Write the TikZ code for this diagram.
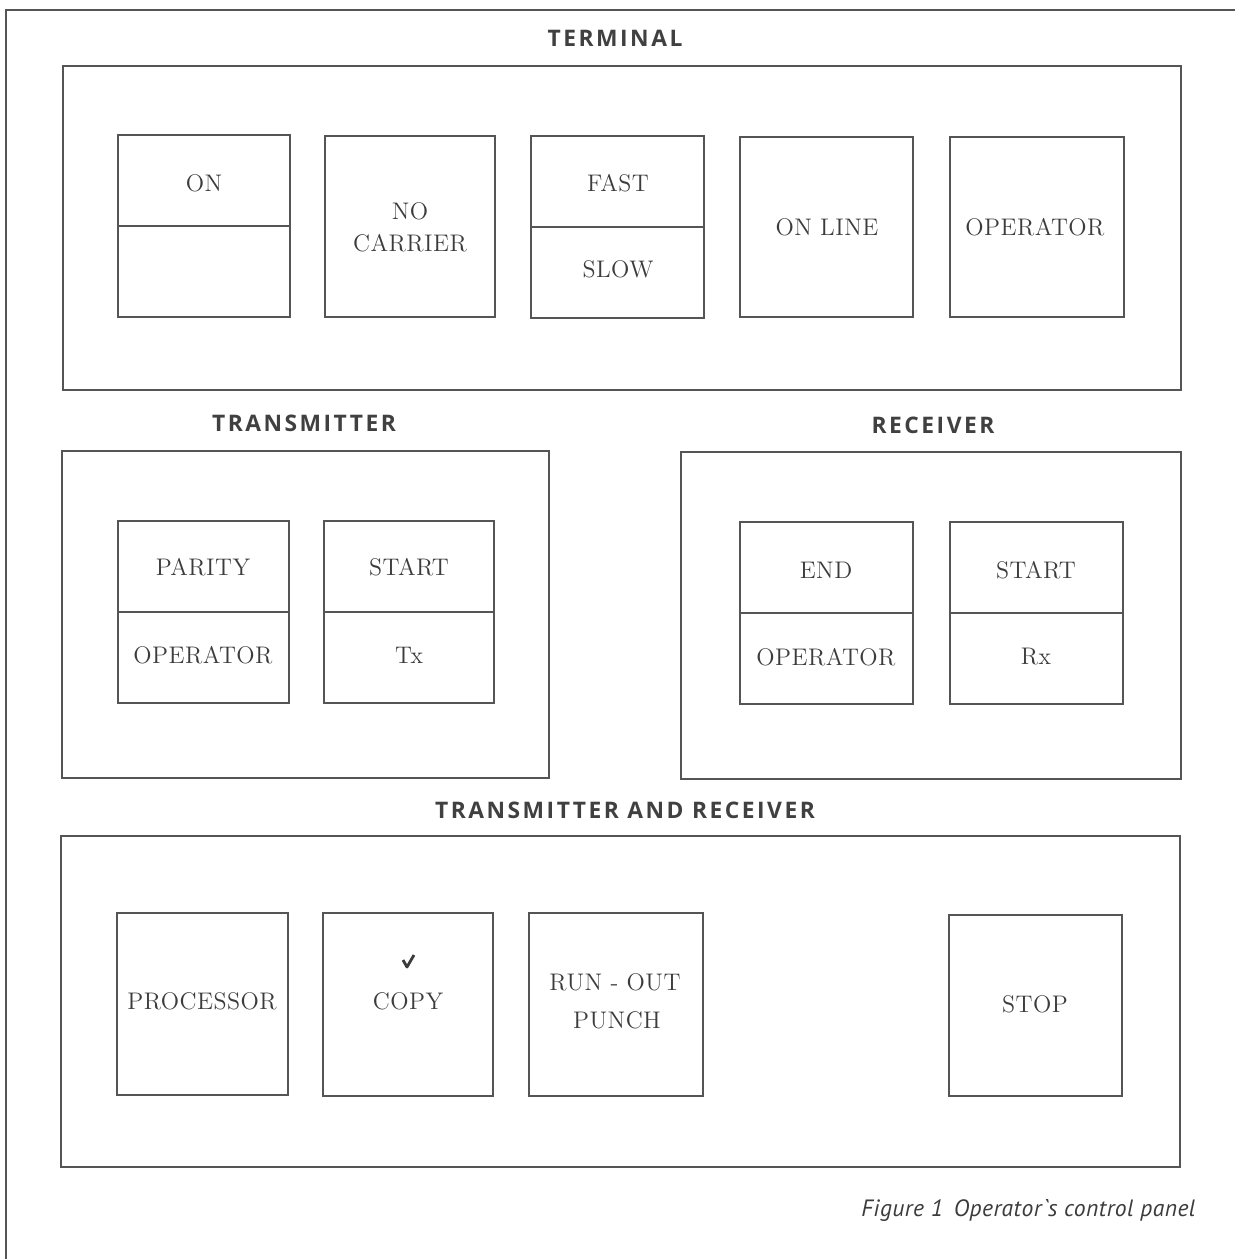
\documentclass[tikz,border=0pt]{standalone}
\usepackage{fontspec}
\usetikzlibrary{fit}
\newfontfamily\headfont[LetterSpace=11]{Open Sans}
\newfontfamily\labfont[LetterSpace=2]{Latin Modern Roman}
\newfontfamily\capfont[LetterSpace=2]{PT Sans}
\definecolor{ink}{HTML}{555555}
\definecolor{txt}{HTML}{3C3C3C}
\definecolor{headc}{HTML}{404040}
\begin{document}
\begin{tikzpicture}[x=0.5pt,y=-0.5pt,
  frame/.style={draw=ink,line width=1.3pt},
  section/.style={draw=ink,line width=1.15pt,inner sep=0pt},
  key/.style={draw=ink,line width=0.8pt,inner sep=0pt},
  divider/.style={draw=ink,line width=0.8pt},
  lab/.style={text=txt,font=\labfont\fontsize{12}{14}\selectfont,inner sep=0pt,align=center},
  head/.style={text=headc,font=\headfont\bfseries\fontsize{11.4}{13}\selectfont,inner sep=0pt},
  captext/.style={text=txt,font=\capfont\itshape\fontsize{11.8}{14}\selectfont,inner sep=0pt,anchor=base west}]
\useasboundingbox[fill=white] (0,0) rectangle (1235,1259);
% outer frame (top and left edges only)
\coordinate (ftr) at (1235,10);
\coordinate (ftl) at (6,10);
\coordinate (fbl) at (6,1259);
\draw[frame] (ftr) -- (ftl) -- (fbl);

% ---------------- TERMINAL ----------------
\node[head] (hterm) at (615,38) {TERMINAL};
\node[section,fit={(63,66) (1181,390)}] (term) {};
\node[key,fit={(118,135) (290,317)}] (kon) {};
\draw[divider] (kon.west) -- (kon.east);
\node[lab] (lon) at (204,183) {ON};
\node[key,fit={(325,136) (495,317)}] (knc) {};
\node[lab] (lno) at (410,211) {NO};
\node[lab] (lcar) at (410,243) {CARRIER};
\node[key,fit={(531,136) (704,318)}] (kfs) {};
\draw[divider] (kfs.west) -- (kfs.east);
\node[lab] (lfast) at (618,183) {FAST};
\node[lab] (lslow) at (618,269) {SLOW};
\node[key,fit={(740,137) (913,317)}] (kol) {};
\node[lab] (lol) at (827,227) {ON LINE};
\node[key,fit={(950,137) (1124,317)}] (kop) {};
\node[lab] (lop) at (1035,227) {OPERATOR};

% ---------------- TRANSMITTER ----------------
\node[head] (htx) at (304,423) {TRANSMITTER};
\node[section,fit={(62,451) (549,778)}] (tx) {};
\node[key,fit={(118,521) (289,703)}] (kpar) {};
\draw[divider] (kpar.west) -- (kpar.east);
\node[lab] (lpar) at (203,567) {PARITY};
\node[lab] (ltop) at (203,655) {OPERATOR};
\node[key,fit={(324,521) (494,703)}] (ktst) {};
\draw[divider] (ktst.west) -- (ktst.east);
\node[lab] (ltst) at (409,567) {START};
\node[lab] (ltx) at (409,655) {Tx};

% ---------------- RECEIVER ----------------
\node[head] (hrx) at (933,425) {RECEIVER};
\node[section,fit={(681,452) (1181,779)}] (rx) {};
\node[key,fit={(740,522) (913,704)}] (kend) {};
\draw[divider] (kend.west) -- (kend.east);
\node[lab] (lend) at (826,570) {END};
\node[lab] (lrop) at (826,657) {OPERATOR};
\node[key,fit={(950,522) (1123,704)}] (krst) {};
\draw[divider] (krst.west) -- (krst.east);
\node[lab] (lrst) at (1036,570) {START};
\node[lab] (lrx) at (1036,657) {Rx};

% ---------------- TRANSMITTER AND RECEIVER ----------------
\node[head] (htr) at (625,810) {TRANSMITTER AND RECEIVER};
\node[section,fit={(61,836) (1180,1167)}] (tr) {};
\node[key,fit={(117,913) (288,1095)}] (kproc) {};
\node[lab] (lproc) at (202,1001) {PROCESSOR};
\node[key,fit={(323,913) (493,1096)}] (kcopy) {};
\node[lab] (lcopy) at (408,1001) {COPY};
\coordinate (tk1) at (403,960);
\coordinate (tk2) at (407,967);
\coordinate (tk3) at (414,955);
\draw[draw=txt,line width=1.4pt,line join=round] (tk1) -- (tk2) -- (tk3);
\node[key,fit={(529,913) (703,1096)}] (krun) {};
\node[lab] (lrun) at (615,982) {RUN - OUT};
\node[lab] (lpunch) at (617,1020) {PUNCH};
\node[key,fit={(949,915) (1122,1096)}] (kstop) {};
\node[lab] (lstop) at (1035,1004) {STOP};

% caption
\node[captext] (caption) at (861,1216) {Figure 1\, Operator`s control panel};
\end{tikzpicture}
\end{document}
